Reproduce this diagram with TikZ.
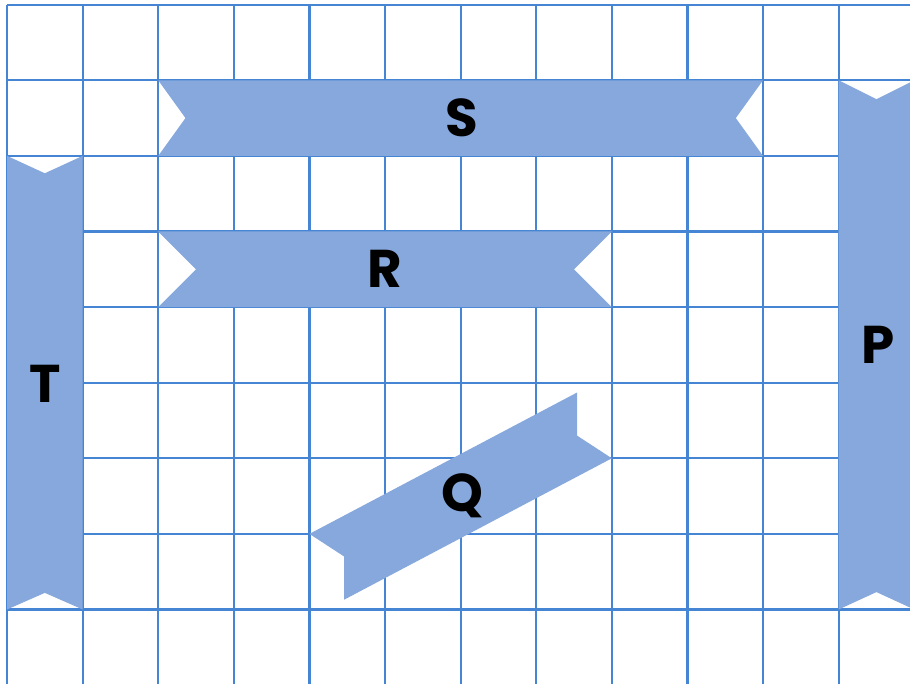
\documentclass[tikz,border=0pt]{standalone}
\usepackage{fontspec}
\setmainfont{Poppins}
\usepackage{tikz}
\usepackage{xcolor}
\definecolor{gridblue}{RGB}{70,133,212}
\definecolor{ribbon}{RGB}{135,168,220}
\tikzset{
  gridline/.style={gridblue,line width=0.85pt},
  band/.style={fill=ribbon,draw=none},
  letter/.style={font=\fontsize{20}{22}\selectfont\bfseries,text=black,inner sep=0pt}
}

\begin{document}
\begin{tikzpicture}
  \useasboundingbox (-0.093,-8.985) rectangle (11.944,0.062);
  \clip (-0.093,-8.985) rectangle (11.944,0.062);
  \foreach \x in {0,...,11}
    \draw[gridline] (\x,0) -- (\x,-9.2);
  \foreach \y in {0,...,-8}
    \draw[gridline] (0,\y) -- (12.2,\y);
  \fill[band] (2,-1) -- (10,-1) -- (9.64,-1.5) -- (10,-2) -- (2,-2) -- (2.36,-1.5) -- cycle;
  \fill[band] (2,-3) -- (8,-3) -- (7.5,-3.5) -- (8,-4) -- (2,-4) -- (2.5,-3.5) -- cycle;
  \fill[band] (0,-2) -- (0.5,-2.23) -- (1,-2) -- (1,-8) -- (0.5,-7.78) -- (0,-8) -- cycle;
  \fill[band] (11,-1) -- (11.5,-1.25) -- (12,-1) -- (12,-8) -- (11.5,-7.77) -- (11,-8) -- cycle;
  \fill[band] (4,-7) -- (7.54,-5.13) -- (7.54,-5.7) -- (8,-6) -- (4.46,-7.87) -- (4.46,-7.3) -- cycle;
  \node[letter] (labS) at (6.02,-1.5) {S};
  \node[letter] (labR) at (5,-3.5) {R};
  \node[letter] (labT) at (0.5,-5.02) {T};
  \node[letter] (labP) at (11.52,-4.5) {P};
  \node[letter] (labQ) at (6.02,-6.5) {Q};
\end{tikzpicture}
\end{document}
